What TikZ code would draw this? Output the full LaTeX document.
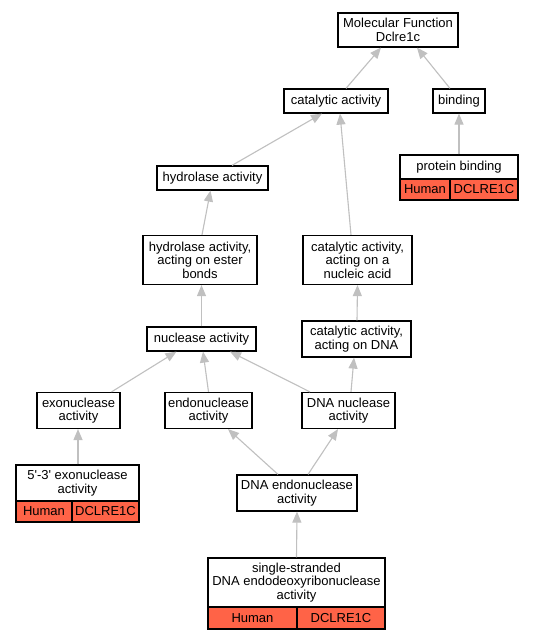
\documentclass[tikz,border=0pt]{standalone}
\usepackage{fontspec}
\setmainfont{Liberation Sans}
\usetikzlibrary{arrows.meta}
\definecolor{edgegray}{RGB}{192,192,192}
\definecolor{genered}{RGB}{255,99,71}
\newcommand{\gofont}{\fontsize{13}{13.4}\selectfont}
\tikzset{
  gobox/.style={draw=black, line width=1.2pt, fill=white, inner sep=0pt, align=center, font=\gofont},
  genebox/.style={gobox, fill=genered},
  isa/.style={draw=edgegray, line width=1.1pt, -{Triangle[length=11pt,width=9pt,fill=edgegray]}}
}
\newcommand{\bx}[6][gobox]{\node[#1, minimum width=#4pt, minimum height=#5pt] (#2) at (#3) {#6};}
\begin{document}
\begin{tikzpicture}[x=1pt,y=-1pt]
\useasboundingbox (0,0) rectangle (533,640);
\fill[white] (0,0) rectangle (533,640);
% nodes
\bx{mf}{398,30}{120}{34}{Molecular Function\\Dclre1c}
\bx{cat}{336,101}{104}{24}{catalytic activity}
\bx{bind}{459,101}{52}{24}{binding}
\bx{pb}{459,167}{118}{24}{protein binding}
\bx[genebox]{pbh}{425,189.5}{50}{21}{Human}
\bx[genebox]{pbg}{484,189.5}{68}{21}{DCLRE1C}
\bx{hyd}{212.5,178}{111}{24}{hydrolase activity}
\bx{ester}{200,260}{114}{49}{hydrolase activity,\\acting on ester\\bonds}
\bx{nacid}{357.5,260}{109}{49}{catalytic activity,\\acting on a\\nucleic acid}
\bx{ondna}{356.5,339}{109}{36}{catalytic activity,\\acting on DNA}
\bx{nuc}{201.5,339}{109}{24}{nuclease activity}
\bx{exo}{78.5,410.5}{83}{36}{exonuclease\\activity}
\bx{endo}{208.5,410.5}{87}{36}{endonuclease\\activity}
\bx{dnanuc}{348.5,410.5}{93}{36}{DNA nuclease\\activity}
\bx{p53}{77.5,483}{123}{36}{5\textquotesingle-3\textquotesingle{} exonuclease\\activity}
\bx[genebox]{h53}{44,511.5}{56}{21}{Human}
\bx[genebox]{g53}{105.5,511.5}{67}{21}{DCLRE1C}
\bx{dnaendo}{297,493}{120}{36}{DNA endonuclease\\activity}
\bx{ss}{296.5,582.5}{177}{49}{single-stranded\\DNA endodeoxyribonuclease\\activity}
\bx[genebox]{hss}{252.5,618}{89}{22}{Human}
\bx[genebox]{gss}{341,618}{88}{22}{DCLRE1C}
% edges
\draw[isa] ([xshift=10pt]cat.north) -- ([xshift=-17pt]mf.south);
\draw[isa] ([xshift=-9pt]bind.north) -- ([xshift=19pt]mf.south);
\draw[isa] (pb.north) -- (bind.south);
\draw[isa] ([xshift=19.5pt]hyd.north) -- ([xshift=-14pt]cat.south);
\draw[isa] ([xshift=-6.5pt]nacid.north) -- ([xshift=4pt]cat.south);
\draw[isa] ([xshift=2pt]ester.north) -- ([xshift=-2pt]hyd.south);
\draw[isa] (nuc.north) -- ([xshift=1.5pt]ester.south);
\draw[isa] ([xshift=0.5pt]ondna.north) -- (nacid.south);
\draw[isa] ([xshift=2.5pt]dnanuc.north) -- ([xshift=-2.5pt]ondna.south);
\draw[isa] ([xshift=33pt]exo.north) -- ([xshift=-25pt]nuc.south);
\draw[isa] (endo.north) -- ([xshift=1.5pt]nuc.south);
\draw[isa] ([xshift=-38.5pt]dnanuc.north) -- ([xshift=28.5pt]nuc.south);
\draw[isa] ([xshift=0.5pt]p53.north) -- ([xshift=-0.5pt]exo.south);
\draw[isa] ([xshift=-19pt]dnaendo.north) -- ([xshift=19.5pt]endo.south);
\draw[isa] ([xshift=11pt]dnaendo.north) -- ([xshift=-10.5pt]dnanuc.south);
\draw[isa] (ss.north) -- (dnaendo.south);
\end{tikzpicture}
\end{document}
